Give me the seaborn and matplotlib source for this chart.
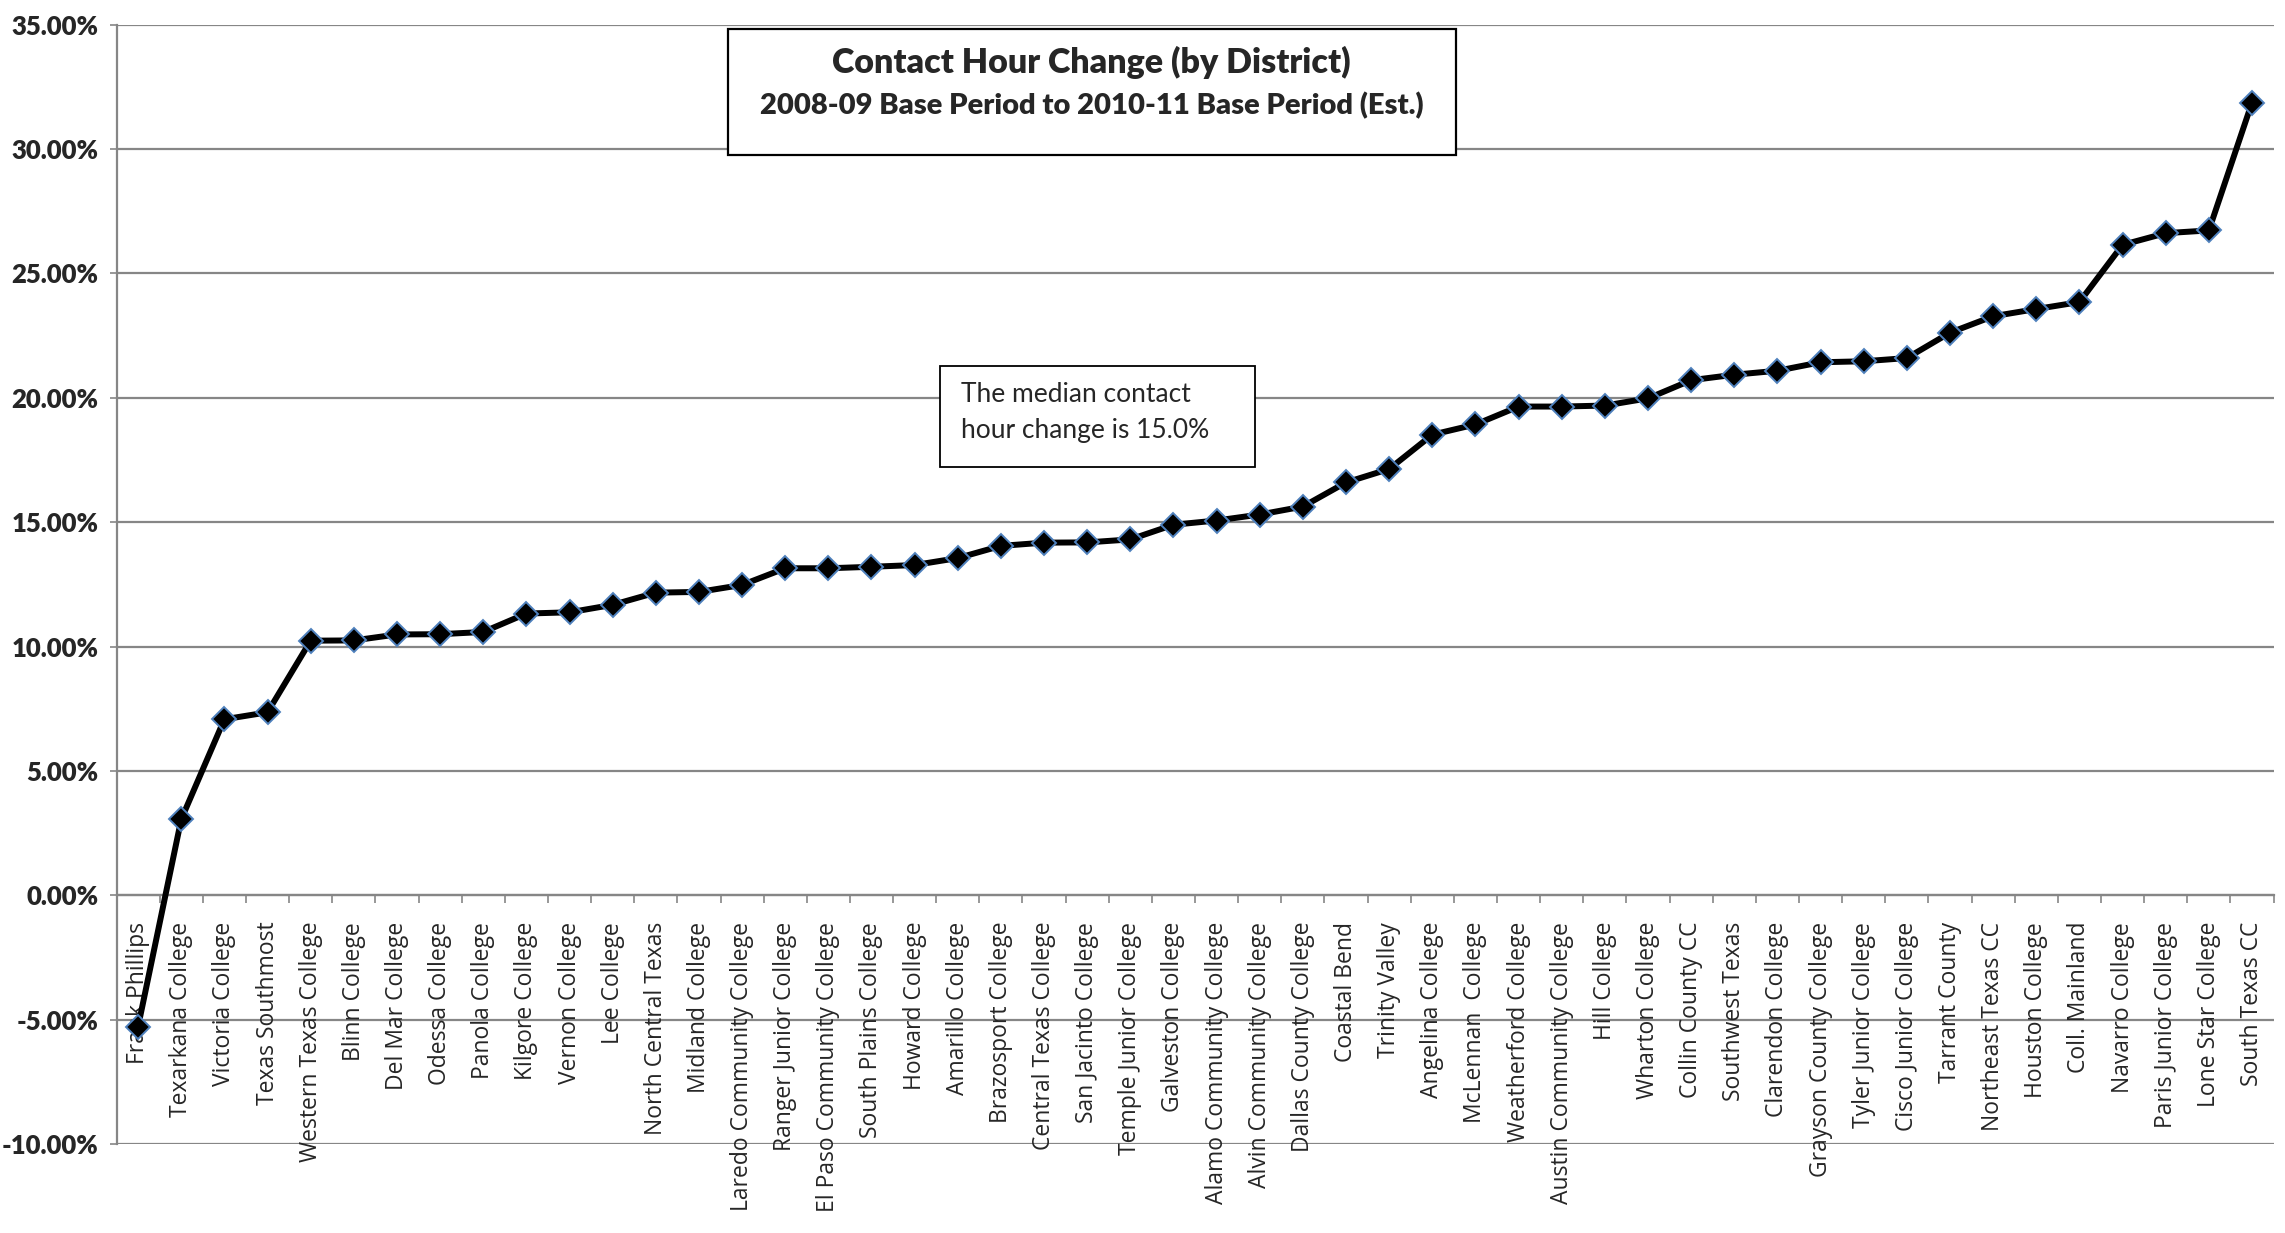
import matplotlib
matplotlib.use("Agg")
import matplotlib.pyplot as plt
from matplotlib.patches import Rectangle
import seaborn as sns
import pandas as pd
import numpy as np

districts = [
    "Frank Phillips", "Texarkana College", "Victoria College", "Texas Southmost",
    "Western Texas College", "Blinn College", "Del Mar College", "Odessa College",
    "Panola College", "Kilgore College", "Vernon College", "Lee College",
    "North Central Texas", "Midland College", "Laredo Community College",
    "Ranger Junior College", "El Paso Community College", "South Plains College",
    "Howard College", "Amarillo College", "Brazosport College", "Central Texas College",
    "San Jacinto College", "Temple Junior College", "Galveston College",
    "Alamo Community College", "Alvin Community College", "Dallas County College",
    "Coastal Bend", "Trinity Valley", "Angelina College", "McLennan  College",
    "Weatherford College", "Austin Community College", "Hill College", "Wharton College",
    "Collin County CC", "Southwest Texas", "Clarendon College", "Grayson County College",
    "Tyler Junior College", "Cisco Junior College", "Tarrant County", "Northeast Texas CC",
    "Houston College", "Coll. Mainland", "Navarro College", "Paris Junior College",
    "Lone Star College", "South Texas CC",
]

change_pct = [
    -5.27, 3.06, 7.08, 7.36, 10.24, 10.25, 10.49, 10.50, 10.59, 11.33,
    11.38, 11.68, 12.17, 12.20, 12.48, 13.15, 13.15, 13.21, 13.28, 13.56,
    14.05, 14.18, 14.19, 14.31, 14.90, 15.07, 15.31, 15.63, 16.60, 17.14,
    18.52, 18.93, 19.65, 19.65, 19.69, 19.98, 20.71, 20.93, 21.09, 21.43,
    21.47, 21.60, 22.62, 23.28, 23.57, 23.85, 26.15, 26.62, 26.73, 31.87,
]

y_ticks = [-10, -5, 0, 5, 10, 15, 20, 25, 30, 35]

title_line1 = "Contact Hour Change (by District)"
title_line2 = "2008-09 Base Period to 2010-11 Base Period (Est.)"
note_text = "The median contact\nhour change is 15.0%"

df = pd.DataFrame({"district": districts, "change": change_pct})
df["pos"] = np.arange(len(df))

sns.set_style("white")
plt.rcParams["font.family"] = ["Lato", "DejaVu Sans"]

fig = plt.figure(figsize=(22.85, 12.33), dpi=100)
ax = fig.add_axes([0.051, 0.072, 0.995 - 0.051, 0.980 - 0.072])

grid_color = "#868686"

# spines first (set_position resets the ticks)
ax.spines["bottom"].set_position(("data", 0))
ax.spines["bottom"].set_color(grid_color)
ax.spines["bottom"].set_linewidth(1.6)
ax.spines["left"].set_color(grid_color)
ax.spines["left"].set_linewidth(1.6)
ax.spines["top"].set_visible(False)
ax.spines["right"].set_visible(False)

for t in y_ticks:
    ax.axhline(t, color=grid_color, lw=1.6, zorder=0)

sns.lineplot(data=df, x="pos", y="change", ax=ax, color="black", lw=4.3,
             marker="D", markersize=12.5, markerfacecolor="black",
             markeredgecolor="#4F81BD", markeredgewidth=1.4, zorder=3)

ax.set_xlabel("")
ax.set_ylabel("")
ax.set_xlim(-0.5, len(df) - 0.5)
ax.set_ylim(min(y_ticks), max(y_ticks))

ax.set_yticks(y_ticks)
ax.set_yticklabels([f"{v:.2f}%" for v in y_ticks], fontsize=18.5, fontweight="heavy")
ax.tick_params(axis="y", which="major", length=5, width=1.2, color=grid_color,
               pad=8, left=True)

ax.set_xticks(df["pos"])
ax.set_xticklabels(df["district"], rotation=90, ha="center", va="top",
                   fontsize=16.5, family=["Open Sans", "DejaVu Sans"])
ax.set_xticks(np.arange(len(df) + 1) - 0.5, minor=True)
ax.tick_params(axis="x", which="major", length=0, pad=19)
ax.tick_params(axis="x", which="minor", length=6, width=1.2, color=grid_color,
               direction="out", bottom=True)

# Title box
fig.patches.append(Rectangle((0.3186, 0.8743), 0.6372 - 0.3186, 0.9765 - 0.8743,
                             transform=fig.transFigure, facecolor="white",
                             edgecolor="black", lw=1.6, zorder=5))
fig.text(0.4776, 0.949, title_line1, ha="center", va="center",
         fontsize=24.5, fontweight="heavy", zorder=6)
fig.text(0.4776, 0.9144, title_line2, ha="center", va="center",
         fontsize=21, fontweight="heavy", zorder=6)

# Median note box
fig.patches.append(Rectangle((0.4114, 0.6213), 0.5492 - 0.4114, 0.7032 - 0.6213,
                             transform=fig.transFigure, facecolor="white",
                             edgecolor="black", lw=1.3, zorder=5))
fig.text(0.4206, 0.6655, note_text, ha="left", va="center",
         fontsize=19, linespacing=1.55, zorder=6)

fig.savefig("out.png", dpi=100, facecolor="white")
